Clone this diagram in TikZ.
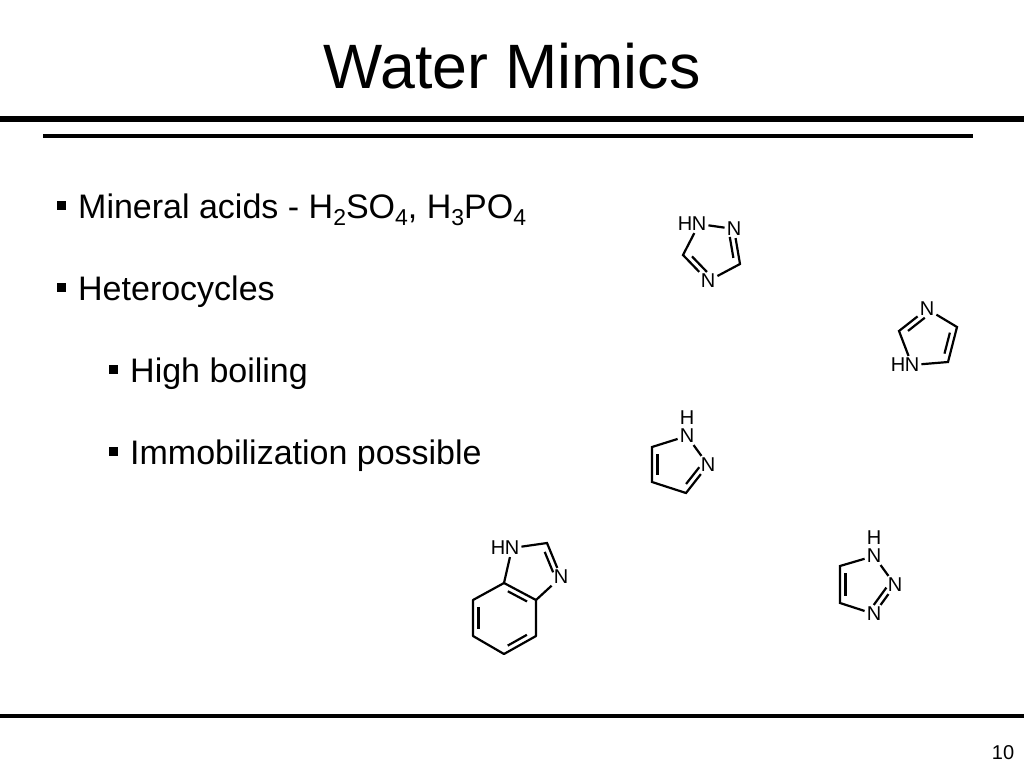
\documentclass[tikz,border=0pt]{standalone}
\usepackage{fontspec}
\setmainfont{Liberation Sans}
\usepackage{tikz}
\usetikzlibrary{calc}
\tikzset{
  atom/.style={inner sep=2pt, font=\fontsize{20}{20}\selectfont},
  bond/.style={line width=2.2pt},
  rule/.style={line width=#1},
  item/.style={anchor=base west, inner sep=0pt, font=\fontsize{34}{34}\selectfont},
  bullet/.style={fill=black, inner sep=0pt, minimum size=9pt}
}
\newcommand{\lowsub}[1]{\raisebox{-7pt}{\fontsize{23}{23}\selectfont #1}}
% second line of a double bond, on the left of #1 -> #2
\newcommand{\inbond}[2]{\draw[bond] ($(#1)!0.2!(#2)!5.5pt!90:(#2)$) -- ($(#2)!0.2!(#1)!5.5pt!-90:(#1)$);}
\begin{document}
\begin{tikzpicture}[x=1pt,y=-1pt]
  \useasboundingbox (0,0) rectangle (1024,768);
  \node[inner sep=0pt, anchor=base, font=\fontsize{62.7}{63}\selectfont] (title) at (512,88) {Water Mimics};
  \coordinate (topl) at (0,119);
  \coordinate (topr) at (1024,119);
  \coordinate (secl) at (43,136);
  \coordinate (secr) at (973,136);
  \coordinate (botl) at (0,716);
  \coordinate (botr) at (1024,716);
  \draw[rule=6pt] (topl) -- (topr);
  \draw[rule=4.5pt] (secl) -- (secr);
  \draw[rule=4.5pt] (botl) -- (botr);
  \node[inner sep=0pt, anchor=base, font=\fontsize{20}{20}\selectfont] (page) at (1003,759) {10};

  % text
  \node[bullet] (b1) at (61.5,205) {};
  \node[item] (acids) at (78,218) {Mineral acids - H\lowsub{2}SO\lowsub{4}, H\lowsub{3}PO\lowsub{4}};
  \node[bullet] (b2) at (61.5,287) {};
  \node[item] (hetero) at (78,300) {Heterocycles};
  \node[bullet] (b3) at (113,369) {};
  \node[item] (boiling) at (130,382) {High boiling};
  \node[bullet] (b4) at (113,451) {};
  \node[item] (immob) at (130,464) {Immobilization possible};

  % 1,2,4-triazole
  \node[atom] (ah) at (685,224) {H};
  \node[atom] (an1) at (699,224) {N};
  \node[atom] (an2) at (734,229) {N};
  \node[atom] (an4) at (708,281) {N};
  \coordinate (ac3) at (740,264);
  \coordinate (ac5) at (683,255);
  \draw[bond] (an1) -- (ac5) -- (an4) -- (ac3) -- (an2) -- (an1);
  \inbond{ac5}{an4}
  \inbond{ac3}{an2}

  % imidazole
  \node[atom] (bn3) at (927,309) {N};
  \node[atom] (bh) at (898,365) {H};
  \node[atom] (bn1) at (912,365) {N};
  \coordinate (bc2) at (899,331);
  \coordinate (bc5) at (948,362);
  \coordinate (bc4) at (957,327);
  \draw[bond] (bn3) -- (bc2) -- (bn1) -- (bc5) -- (bc4) -- (bn3);
  \inbond{bn3}{bc2}
  \inbond{bc5}{bc4}

  % pyrazole
  \node[atom] (ch) at (687,418) {H};
  \node[atom] (cn1) at (687,436) {N};
  \node[atom] (cn2) at (708,465) {N};
  \coordinate (cc5) at (652,447);
  \coordinate (cc4) at (652,482);
  \coordinate (cc3) at (686,493);
  \draw[bond] (cn1) -- (cc5) -- (cc4) -- (cc3) -- (cn2) -- (cn1);
  \inbond{cc5}{cc4}
  \inbond{cc3}{cn2}

  % 1,2,3-triazole
  \node[atom] (dh) at (874,538) {H};
  \node[atom] (dn1) at (874,556) {N};
  \node[atom] (dn2) at (895,585) {N};
  \node[atom] (dn3) at (874,614) {N};
  \coordinate (dc5) at (840,566);
  \coordinate (dc4) at (840,603);
  \draw[bond] (dn1) -- (dc5) -- (dc4) -- (dn3) -- (dn2) -- (dn1);
  \inbond{dc5}{dc4}
  \inbond{dn3}{dn2}

  % benzimidazole
  \node[atom] (eh) at (498,548) {H};
  \node[atom] (en1) at (512,548) {N};
  \node[atom] (en3) at (561,577) {N};
  \coordinate (ec2) at (547,543);
  \coordinate (ec3a) at (536,600);
  \coordinate (ec7a) at (504,583);
  \coordinate (ec7) at (473,600);
  \coordinate (ec6) at (473,636);
  \coordinate (ec5) at (504,654);
  \coordinate (ec4) at (536,636);
  \draw[bond] (en1) -- (ec2) -- (en3) -- (ec3a);
  \draw[bond] (en1) -- (ec7a);
  \draw[bond,line join=round] (ec7a) -- (ec7) -- (ec6) -- (ec5) -- (ec4) -- (ec3a) -- cycle;
  \inbond{en3}{ec2}
  \inbond{ec3a}{ec7a}
  \inbond{ec7}{ec6}
  \inbond{ec5}{ec4}
\end{tikzpicture}
\end{document}
